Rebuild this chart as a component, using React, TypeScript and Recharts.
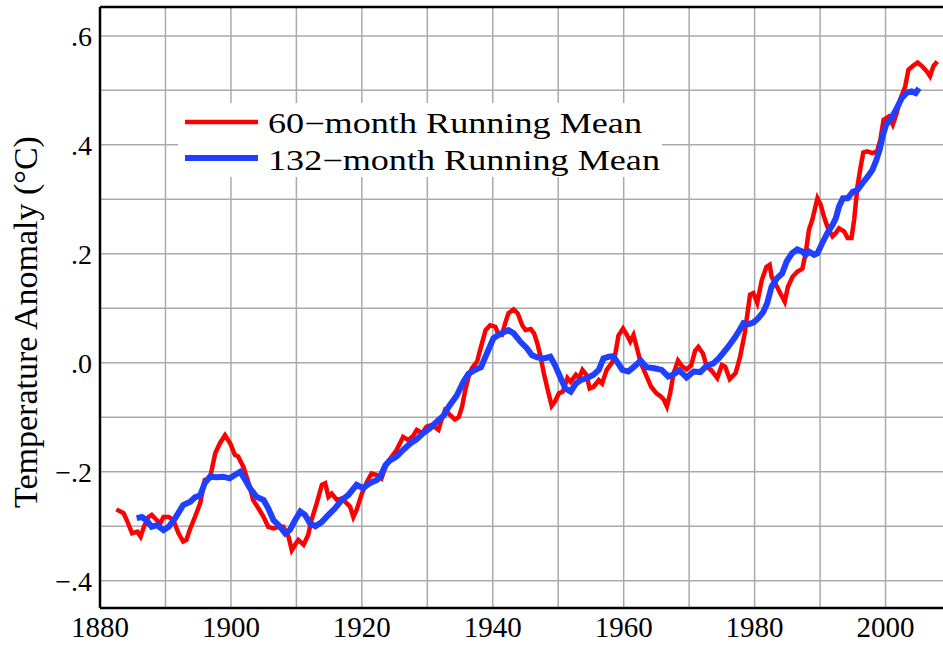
import React from 'react';
import { LineChart, Line, XAxis, YAxis, CartesianGrid, ReferenceLine, Legend, Label } from 'recharts';

const redYears = [1882.5,1883.6,1884.1,1884.9,1885.7,1886.2,1886.7,1887.4,1887.9,1888.7,1889.2,1889.7,1890.5,1891.2,1892.0,1892.7,1893.2,1893.7,1894.5,1895.3,1896.0,1896.8,1897.6,1898.3,1899.1,1899.9,1900.6,1901.1,1901.9,1902.7,1903.4,1904.2,1905.0,1905.7,1906.5,1907.3,1908.0,1908.8,1909.3,1909.8,1910.3,1911.1,1911.8,1912.3,1913.1,1913.9,1914.4,1914.9,1915.4,1916.2,1916.9,1917.7,1918.2,1918.7,1919.2,1920.0,1920.8,1921.5,1922.3,1923.0,1923.8,1925.3,1926.3,1927.1,1927.9,1928.4,1929.2,1929.9,1930.7,1931.7,1932.0,1932.7,1933.5,1934.2,1934.8,1935.3,1935.8,1936.3,1936.8,1937.6,1938.1,1938.9,1939.6,1940.4,1940.9,1941.4,1941.9,1942.4,1943.2,1943.8,1944.5,1945.0,1945.8,1946.3,1946.8,1947.3,1947.8,1948.4,1949.0,1949.5,1950.1,1950.7,1951.4,1951.9,1952.7,1953.2,1953.7,1954.3,1954.8,1955.4,1956.2,1956.7,1957.4,1958.2,1958.7,1959.2,1959.9,1960.5,1961.0,1961.5,1962.0,1962.6,1963.4,1964.2,1965.0,1965.6,1966.1,1966.6,1967.1,1967.6,1968.3,1968.9,1969.6,1970.3,1970.9,1971.4,1972.1,1972.7,1973.4,1974.3,1975.0,1975.5,1976.2,1977.1,1977.8,1978.5,1979.3,1979.8,1980.4,1981.1,1981.8,1982.3,1982.6,1983.4,1983.9,1984.6,1985.1,1985.8,1986.5,1987.3,1987.8,1988.3,1988.8,1989.6,1990.1,1990.6,1991.2,1991.9,1992.4,1992.9,1993.7,1994.2,1994.8,1995.2,1995.7,1996.2,1996.6,1997.2,1998.0,1998.7,1999.2,1999.7,2000.5,2001.1,2001.7,2002.2,2003.0,2003.5,2004.2,2004.9,2005.6,2006.3,2006.8,2007.3,2007.9];
const redTemps = [-0.269,-0.276,-0.289,-0.313,-0.310,-0.319,-0.301,-0.283,-0.279,-0.289,-0.295,-0.283,-0.283,-0.289,-0.313,-0.328,-0.325,-0.307,-0.283,-0.258,-0.215,-0.212,-0.166,-0.148,-0.133,-0.148,-0.169,-0.172,-0.191,-0.221,-0.252,-0.267,-0.283,-0.301,-0.304,-0.301,-0.301,-0.319,-0.344,-0.334,-0.325,-0.334,-0.316,-0.289,-0.258,-0.224,-0.221,-0.246,-0.240,-0.252,-0.249,-0.258,-0.264,-0.283,-0.270,-0.240,-0.218,-0.203,-0.206,-0.212,-0.185,-0.160,-0.136,-0.142,-0.133,-0.123,-0.129,-0.117,-0.114,-0.123,-0.111,-0.087,-0.096,-0.104,-0.100,-0.081,-0.050,-0.026,-0.010,0.002,0.025,0.060,0.069,0.066,0.051,0.051,0.073,0.091,0.098,0.091,0.069,0.060,0.062,0.054,0.036,0.011,-0.019,-0.050,-0.079,-0.071,-0.056,-0.053,-0.028,-0.035,-0.022,-0.028,-0.013,-0.022,-0.047,-0.044,-0.032,-0.038,-0.013,0.000,0.015,0.050,0.063,0.051,0.039,0.051,0.028,0.000,-0.022,-0.044,-0.056,-0.061,-0.067,-0.080,-0.056,-0.020,0.004,-0.006,-0.012,-0.005,0.022,0.029,0.017,-0.007,-0.014,-0.028,-0.004,-0.007,-0.030,-0.019,0.012,0.055,0.125,0.128,0.110,0.152,0.176,0.180,0.158,0.140,0.128,0.112,0.140,0.158,0.167,0.173,0.201,0.244,0.262,0.302,0.290,0.268,0.247,0.232,0.238,0.247,0.241,0.229,0.229,0.262,0.323,0.360,0.386,0.388,0.385,0.388,0.409,0.446,0.452,0.437,0.458,0.482,0.507,0.538,0.545,0.551,0.544,0.535,0.526,0.544,0.553];

const blueYears = [1885.6,1886.4,1887.1,1887.9,1888.7,1889.7,1890.5,1891.5,1892.7,1893.8,1894.5,1895.3,1896.0,1896.8,1897.8,1898.8,1899.8,1900.6,1901.4,1902.2,1902.9,1903.9,1905.0,1905.7,1906.5,1907.3,1908.3,1909.0,1909.8,1910.6,1911.3,1912.1,1912.9,1913.9,1914.9,1915.9,1916.9,1917.9,1919.2,1920.2,1921.2,1922.3,1922.8,1923.6,1924.3,1925.3,1926.3,1927.4,1928.4,1929.4,1930.4,1931.5,1932.5,1933.3,1934.5,1935.5,1936.3,1937.3,1938.2,1939.1,1940.1,1941.1,1942.4,1943.2,1944.2,1945.2,1946.0,1946.8,1947.8,1948.8,1949.5,1950.3,1951.1,1951.9,1952.7,1953.4,1954.4,1955.4,1956.2,1956.9,1957.7,1958.4,1959.1,1959.8,1960.7,1961.6,1962.6,1963.5,1964.7,1965.8,1966.8,1967.5,1968.5,1969.6,1970.7,1971.7,1972.7,1973.7,1974.5,1975.2,1976.0,1976.9,1977.6,1978.3,1979.1,1979.8,1980.5,1981.3,1981.9,1982.6,1983.4,1984.2,1984.9,1985.7,1986.5,1987.3,1987.8,1988.3,1989.1,1989.6,1990.3,1991.1,1991.9,1992.4,1992.9,1993.5,1994.2,1995.0,1995.7,1996.5,1997.3,1998.0,1998.6,1999.1,1999.6,2000.1,2000.9,2001.7,2002.5,2003.3,2004.0,2004.6,2005.1];
const blueTemps = [-0.285,-0.283,-0.289,-0.301,-0.298,-0.307,-0.301,-0.285,-0.261,-0.255,-0.247,-0.243,-0.221,-0.209,-0.210,-0.209,-0.212,-0.206,-0.200,-0.215,-0.230,-0.246,-0.252,-0.267,-0.289,-0.298,-0.313,-0.307,-0.289,-0.273,-0.279,-0.295,-0.300,-0.292,-0.279,-0.267,-0.252,-0.243,-0.224,-0.230,-0.221,-0.215,-0.209,-0.188,-0.179,-0.172,-0.160,-0.148,-0.140,-0.129,-0.120,-0.107,-0.097,-0.080,-0.060,-0.035,-0.020,-0.013,-0.008,0.017,0.045,0.053,0.060,0.054,0.039,0.027,0.014,0.010,0.008,0.011,-0.004,-0.026,-0.047,-0.053,-0.038,-0.032,-0.028,-0.022,-0.013,0.008,0.011,0.012,0.000,-0.013,-0.016,-0.007,0.004,-0.008,-0.010,-0.013,-0.025,-0.022,-0.014,-0.027,-0.016,-0.017,-0.005,-0.001,0.008,0.018,0.030,0.045,0.058,0.073,0.071,0.074,0.081,0.093,0.109,0.140,0.155,0.164,0.186,0.201,0.208,0.204,0.198,0.204,0.198,0.201,0.219,0.238,0.253,0.265,0.287,0.302,0.302,0.314,0.317,0.330,0.342,0.354,0.372,0.391,0.418,0.437,0.449,0.467,0.486,0.496,0.498,0.495,0.504];

const xTicks = [1880, 1890, 1900, 1910, 1920, 1930, 1940, 1950, 1960, 1970, 1980, 1990, 2000, 2010];
const xTickLabels = ['1880', '', '1900', '', '1920', '', '1940', '', '1960', '', '1980', '', '2000', ''];
const yTicks = [-0.4, -0.3, -0.2, -0.1, 0, 0.1, 0.2, 0.3, 0.4, 0.5, 0.6];
const yTickLabels = ['\u2212.4', '', '\u2212.2', '', '.0', '', '.2', '', '.4', '', '.6'];

const seriesNames = ['60\u2212month Running Mean', '132\u2212month Running Mean'];
const seriesColors = ['#ff0000', '#1f40ff'];
const yAxisTitle = 'Temperature Anomaly (\u00B0C)';

const redData = redYears.map((year, i) => ({ year, temp: redTemps[i] }));
const blueData = blueYears.map((year, i) => ({ year, temp: blueTemps[i] }));

const FONT = '"Liberation Serif", "Times New Roman", serif';

const legendTextLengths = [374, 392];

const renderLegend = (props: any) => {
  const payload = (props.payload || []).slice().sort(
    (a: any, b: any) => seriesNames.indexOf(a.value) - seriesNames.indexOf(b.value)
  );
  return (
    <svg width={484} height={74} style={{ display: 'block', background: '#ffffff' }}>
      {payload.map((p: any, i: number) => {
        const cy = i === 0 ? 19 : 55;
        const base = i === 0 ? 30 : 67;
        return (
          <g key={i}>
            <line x1={7} x2={80} y1={cy} y2={cy} stroke={p.color} strokeWidth={i === 0 ? 4.5 : 6} />
            <text x={90} y={base} fontFamily={FONT} fontSize={28.5} fill="#000" textLength={legendTextLengths[i]} lengthAdjust="spacingAndGlyphs">
              {p.value}
            </text>
          </g>
        );
      })}
    </svg>
  );
};

const renderYTitle = () => (
  <text x={37} y={322} transform="rotate(-90 37 322)" textAnchor="middle" fontFamily={FONT} fontSize={34} fill="#000">
    {yAxisTitle}
  </text>
);

export default function App() {
  return (
    <div style={{ position: 'fixed', left: 0, top: 0, width: 943, height: 647, overflow: 'hidden', background: '#fff' }}>
      <LineChart width={960} height={647} margin={{ top: 7, right: 9, left: 0, bottom: 0 }}>
        <CartesianGrid stroke="#aaaaaa" strokeWidth={1.5} />
        <XAxis
          type="number"
          dataKey="year"
          domain={[1880, 2010]}
          ticks={xTicks}
          tickFormatter={(v: any, i: number) => xTickLabels[i] ?? ''}
          tickLine={false}
          axisLine={{ stroke: '#000', strokeWidth: 2.5 }}
          tick={{ fontFamily: FONT, fontSize: 29, fill: '#000' }}
          height={39}
          interval={0}
          allowDataOverflow
        />
        <YAxis
          type="number"
          domain={[-0.45, 0.653]}
          ticks={yTicks}
          tickFormatter={(v: any, i: number) => yTickLabels[i] ?? ''}
          tickLine={false}
          axisLine={{ stroke: '#000', strokeWidth: 2.5 }}
          tick={{ fontFamily: FONT, fontSize: 28, fill: '#000' }}
          width={100}
          interval={0}
          allowDataOverflow
        >
          <Label content={renderYTitle} />
        </YAxis>
        <ReferenceLine y={0.653} stroke="#000" strokeWidth={2.5} />
        <Legend
          layout="vertical"
          align="center"
          verticalAlign="middle"
          content={renderLegend}
          wrapperStyle={{ left: 178, top: 103, width: 484, height: 74 }}
        />
        <Line data={redData} dataKey="temp" name={seriesNames[0]} stroke={seriesColors[0]} strokeWidth={4.5} dot={false} isAnimationActive={false} type="linear" />
        <Line data={blueData} dataKey="temp" name={seriesNames[1]} stroke={seriesColors[1]} strokeWidth={6} dot={false} isAnimationActive={false} type="linear" />
      </LineChart>
    </div>
  );
}
